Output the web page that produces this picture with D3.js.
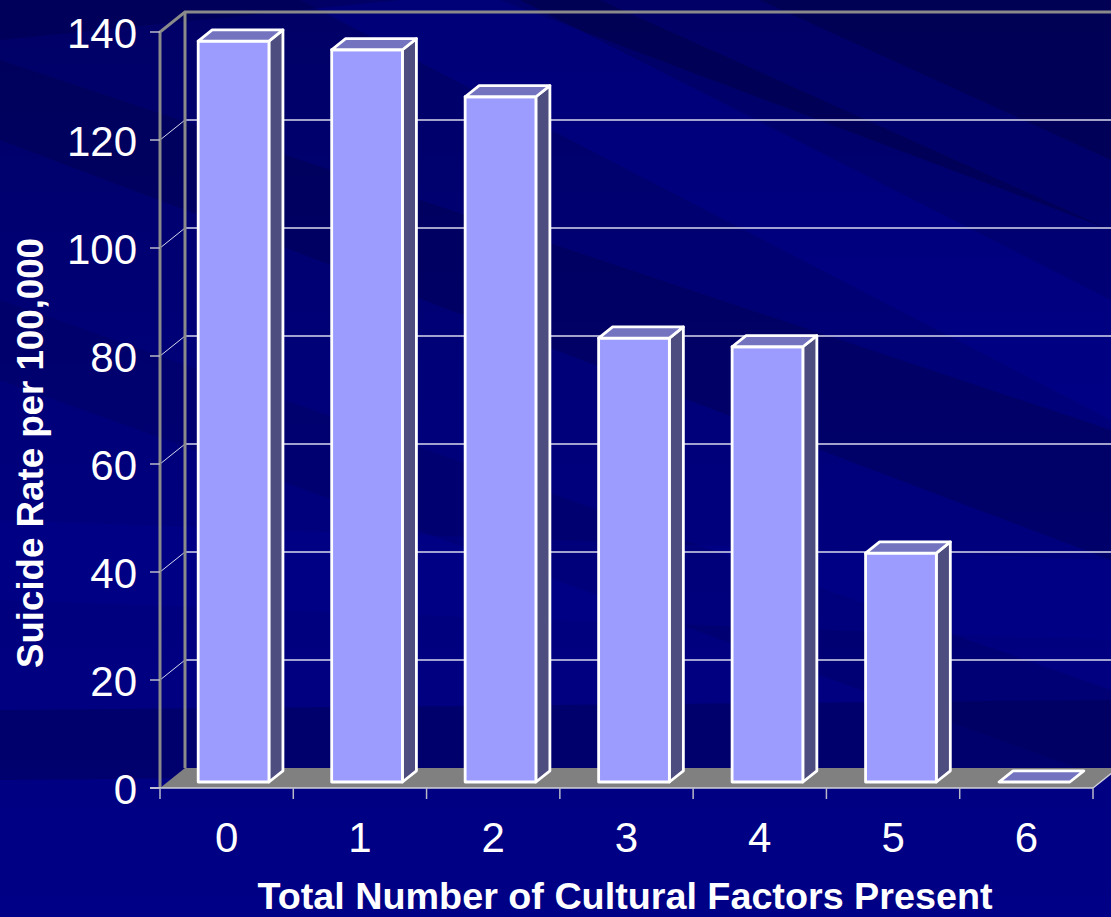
<!DOCTYPE html>
<html><head><meta charset="utf-8">
<script src="https://cdn.jsdelivr.net/npm/d3@7"></script>
<style>html,body{margin:0;padding:0;background:#000070;overflow:hidden}</style>
</head><body>
<script>
// ---- data ----
const categories = ["0","1","2","3","4","5","6"];
const values = [137.2, 135.6, 126.9, 82.2, 80.6, 42.4, 0];
const yTicks = [0,20,40,60,80,100,120,140];
const yTitle = "Suicide Rate per 100,000";
const xTitle = "Total Number of Cultural Factors Present";

const W = 1111, H = 917;
const DX = 25, DY = -20;          // depth offset of the back wall
const D0 = 0.30, D1 = 0.86;       // bar front/back depth fractions
const FONT = "'Liberation Sans', Arial, sans-serif";

const svg = d3.select("body").append("svg").attr("width", W).attr("height", H);

// ---- background ----
const defs = svg.append("defs");
const g0 = defs.append("linearGradient").attr("id","bg").attr("x1",0).attr("y1",0).attr("x2",0).attr("y2",1);
g0.append("stop").attr("offset",0).attr("stop-color","#000066");
g0.append("stop").attr("offset",0.45).attr("stop-color","#00007a");
g0.append("stop").attr("offset",1).attr("stop-color","#000086");
svg.append("rect").attr("width",W).attr("height",H).attr("fill","url(#bg)");
const bands = [
  {p:[[500,0],[1111,0],[1111,230]], c:"#000040", o:0.45},
  {p:[[0,60],[0,140],[1111,560],[1111,430]], c:"#000040", o:0.3},
  {p:[[300,0],[520,0],[1111,300],[1111,420]], c:"#0000a0", o:0.3},
  {p:[[0,0],[400,0],[0,40]], c:"#000040", o:0.3},
  {p:[[0,300],[0,380],[1111,780],[1111,690]], c:"#000050", o:0.25},
  {p:[[0,520],[0,600],[1111,640],[1111,560]], c:"#0000a0", o:0.2},
  {p:[[0,710],[0,780],[1111,770],[1111,700]], c:"#000040", o:0.3},
  {p:[[600,0],[760,0],[1111,160],[1111,230]], c:"#0000a0", o:0.25}
];
svg.append("g").selectAll("polygon").data(bands).join("polygon")
  .attr("points", d => d.p.map(q => q.join(",")).join(" "))
  .attr("fill", d => d.c).attr("opacity", d => d.o);

// ---- scales ----
const y = d3.scaleLinear().domain([0,140]).range([788, 32]);
const x = d3.scaleBand().domain(categories).range([160, 1093]).paddingInner(0.47).paddingOuter(0.23);
const xCat = d3.scaleBand().domain(categories).range([160, 1093]);
const x0 = 160, x1 = 1093;

// ---- back wall gridlines ----
const grid = svg.append("g");
grid.selectAll("line.bg").data(yTicks.filter(t => t > 0 && t < 140)).join("line")
  .attr("x1", x0 + DX).attr("x2", W + 10)
  .attr("y1", d => y(d) + DY).attr("y2", d => y(d) + DY)
  .attr("stroke", "#d8d8ee").attr("stroke-width", 1.3);
// left wall diagonals
grid.selectAll("line.lw").data(yTicks.filter(t => t > 0 && t < 140)).join("line")
  .attr("x1", x0).attr("x2", x0 + DX)
  .attr("y1", d => y(d)).attr("y2", d => y(d) + DY)
  .attr("stroke", "#d8d8ee").attr("stroke-width", 1);

// floor
svg.append("polygon")
  .attr("points", [[x0, y(0)], [x1, y(0)], [x1 + DX, y(0) + DY], [x0 + DX, y(0) + DY]].map(q => q.join(",")).join(" "))
  .attr("fill", "#808080");

// wall frame (gray)
const frame = svg.append("g").attr("stroke", "#8a8a8a").attr("stroke-width", 3).attr("fill", "none");
frame.append("path").attr("d",
  `M${x0},${y(0)} L${x0},${y(140)} L${x0 + DX},${y(140) + DY} L${W + 10},${y(140) + DY}`);
frame.append("path").attr("d", `M${x0 + DX},${y(140) + DY} L${x0 + DX},${y(0) + DY}`);

// ---- y axis (front-left ticks) ----
const yAxis = svg.append("g");
yAxis.selectAll("line").data(yTicks).join("line")
  .attr("x1", 150).attr("x2", x0).attr("y1", d => y(d)).attr("y2", d => y(d))
  .attr("stroke", "#b8b8c8").attr("stroke-width", 1.5);
yAxis.selectAll("text").data(yTicks).join("text")
  .attr("x", 137).attr("y", d => y(d)).attr("dy", "0.37em")
  .attr("text-anchor", "end").attr("fill", "#fff")
  .style("font-family", FONT).style("font-size", "42px")
  .text(d => d);

// ---- x axis ----
const xAxis = svg.append("g");
xAxis.append("line").attr("x1", 150).attr("x2", x1).attr("y1", y(0)).attr("y2", y(0))
  .attr("stroke", "#d0d0dc").attr("stroke-width", 1.5);
const bounds = categories.map(c => xCat(c)).concat([x1]);
xAxis.selectAll("line.t").data(bounds).join("line")
  .attr("x1", d => d).attr("x2", d => d).attr("y1", y(0)).attr("y2", y(0) + 11)
  .attr("stroke", "#b8b8c8").attr("stroke-width", 1.5);
xAxis.selectAll("text").data(categories).join("text")
  .attr("x", d => xCat(d) + xCat.bandwidth() / 2).attr("y", 852)
  .attr("text-anchor", "middle").attr("fill", "#fff")
  .style("font-family", FONT).style("font-size", "42px")
  .text(d => d);
// right floor edge
svg.append("line").attr("x1", x1).attr("y1", y(0)).attr("x2", x1 + DX).attr("y2", y(0) + DY)
  .attr("stroke", "#d0d0dc").attr("stroke-width", 1.5);

// ---- bars ----
const bx = DX * D0, by = DY * D0;           // shift of bar front face
const ddx = DX * (D1 - D0), ddy = DY * (D1 - D0);
const bars = svg.append("g").attr("stroke", "#ffffff").attr("stroke-width", 2.8).attr("stroke-linejoin", "round");
categories.forEach((c, i) => {
  const v = values[i];
  const L = x(c) + bx, R = x(c) + x.bandwidth() + bx;
  const B = y(0) + by, T = y(v) + by;
  const g = bars.append("g");
  if (B - T > 0.5) {
    g.append("polygon").attr("fill", "#4d4d80")
      .attr("points", [[R, B], [R + ddx, B + ddy], [R + ddx, T + ddy], [R, T]].map(q => q.join(",")).join(" "));
    g.append("rect").attr("fill", "#9c9cff")
      .attr("x", L).attr("y", T).attr("width", R - L).attr("height", B - T);
  }
  g.append("polygon").attr("fill", "#7373c0")
    .attr("points", [[L, T], [R, T], [R + ddx, T + ddy], [L + ddx, T + ddy]].map(q => q.join(",")).join(" "));
});

// ---- titles ----
svg.append("text")
  .attr("transform", `translate(43,453) rotate(-90)`)
  .attr("text-anchor", "middle").attr("fill", "#fff")
  .attr("textLength", 430).attr("lengthAdjust", "spacingAndGlyphs")
  .style("font-family", FONT).style("font-size", "37px").style("font-weight", "bold")
  .text(yTitle);
svg.append("text")
  .attr("x", 625).attr("y", 909)
  .attr("text-anchor", "middle").attr("fill", "#fff")
  .attr("textLength", 735).attr("lengthAdjust", "spacingAndGlyphs")
  .style("font-family", FONT).style("font-size", "36px").style("font-weight", "bold")
  .text(xTitle);
</script>
</body></html>
